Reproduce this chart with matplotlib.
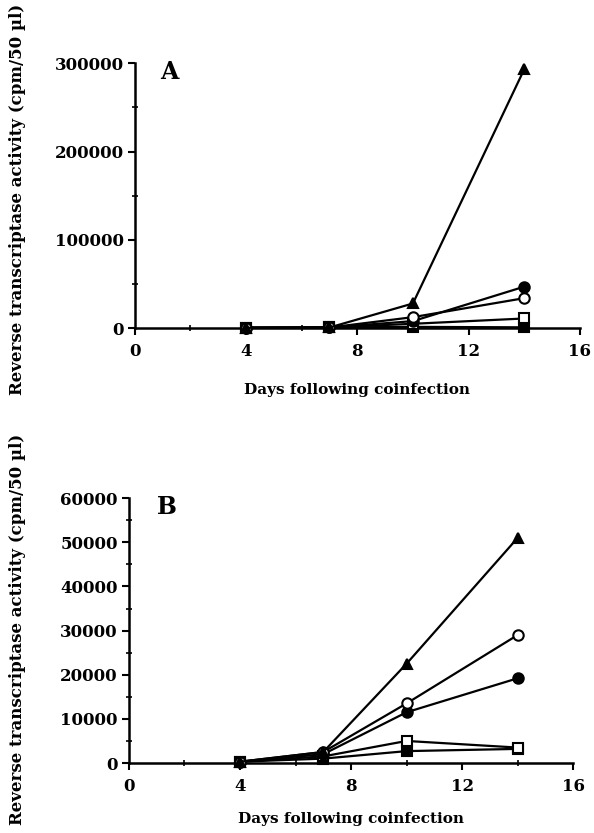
import numpy as np
import matplotlib
matplotlib.use('Agg')
import matplotlib.pyplot as plt
import matplotlib.ticker as ticker

plt.rcParams.update({'font.family': 'DejaVu Serif', 'font.weight': 'bold',
                     'axes.labelweight': 'bold'})

days = [4, 7, 10, 14]

# panel A (cpm/50 ul)
a_tri_f = [500, 800, 28000, 293000]
a_circ_f = [500, 800, 8000, 47000]
a_circ_o = [500, 800, 12500, 34000]
a_sq_o = [500, 800, 5000, 11000]
a_sq_f = [500, 800, 1500, 1000]

# panel B
b_tri_f = [300, 2500, 22500, 51000]
b_circ_o = [300, 2500, 13500, 29000]
b_circ_f = [300, 2000, 11500, 19200]
b_sq_o = [300, 1500, 5000, 3500]
b_sq_f = [300, 1000, 2700, 3200]

ylabel = 'Reverse transcriptase activity (cpm/50 \u00b5l)'
xlabel = 'Days following coinfection'

fig = plt.figure(figsize=(5.94, 8.33), dpi=100)
axA = fig.add_axes([0.227, 0.606, 0.749, 0.318])
axB = fig.add_axes([0.217, 0.084, 0.748, 0.318])

def series(ax, y, marker, filled):
    ax.plot(days, y, '-', color='black', lw=1.6, marker=marker, ms=7.5,
            mfc='black' if filled else 'white', mec='black', mew=1.5,
            clip_on=False, zorder=3)

def style(ax, ymax, ystep, letter, lx, ly):
    ax.set_xlim(0, 16)
    ax.set_ylim(0, ymax)
    ax.set_xticks([0, 4, 8, 12, 16])
    ax.set_yticks(np.arange(0, ymax + 1, ystep))
    ax.xaxis.set_minor_locator(ticker.MultipleLocator(2))
    ax.yaxis.set_minor_locator(ticker.MultipleLocator(ystep / 2))
    for s in ['top', 'right']:
        ax.spines[s].set_visible(False)
    for s in ['left', 'bottom']:
        ax.spines[s].set_linewidth(1.8)
    ax.tick_params(which='major', direction='out', length=5, width=1.5,
                   labelsize=12)
    ax.tick_params(axis='x', which='major', pad=6)
    ax.tick_params(axis='y', which='major', pad=3)
    ax.tick_params(which='minor', direction='inout', length=4, width=1.2)
    for lab in ax.get_xticklabels() + ax.get_yticklabels():
        lab.set_fontweight('bold')
    ax.text(lx, ly, letter, transform=ax.transAxes, fontsize=17,
            fontweight='bold', va='center', ha='left')

series(axA, a_sq_f, 's', True)
series(axA, a_sq_o, 's', False)
series(axA, a_circ_f, 'o', True)
series(axA, a_circ_o, 'o', False)
series(axA, a_tri_f, '^', True)
style(axA, 300000, 100000, 'A', 0.056, 0.966)
axA.set_xlabel(xlabel, fontsize=11, labelpad=16)
axA.set_ylabel(ylabel, fontsize=12)
axA.yaxis.set_label_coords(-0.245, 0.485)

series(axB, b_sq_f, 's', True)
series(axB, b_sq_o, 's', False)
series(axB, b_circ_f, 'o', True)
series(axB, b_circ_o, 'o', False)
series(axB, b_tri_f, '^', True)
style(axB, 60000, 10000, 'B', 0.063, 0.966)
axB.set_xlabel(xlabel, fontsize=11, labelpad=12)
axB.set_ylabel(ylabel, fontsize=12)
axB.yaxis.set_label_coords(-0.232, 0.506)

fig.savefig('out.png', dpi=100)
